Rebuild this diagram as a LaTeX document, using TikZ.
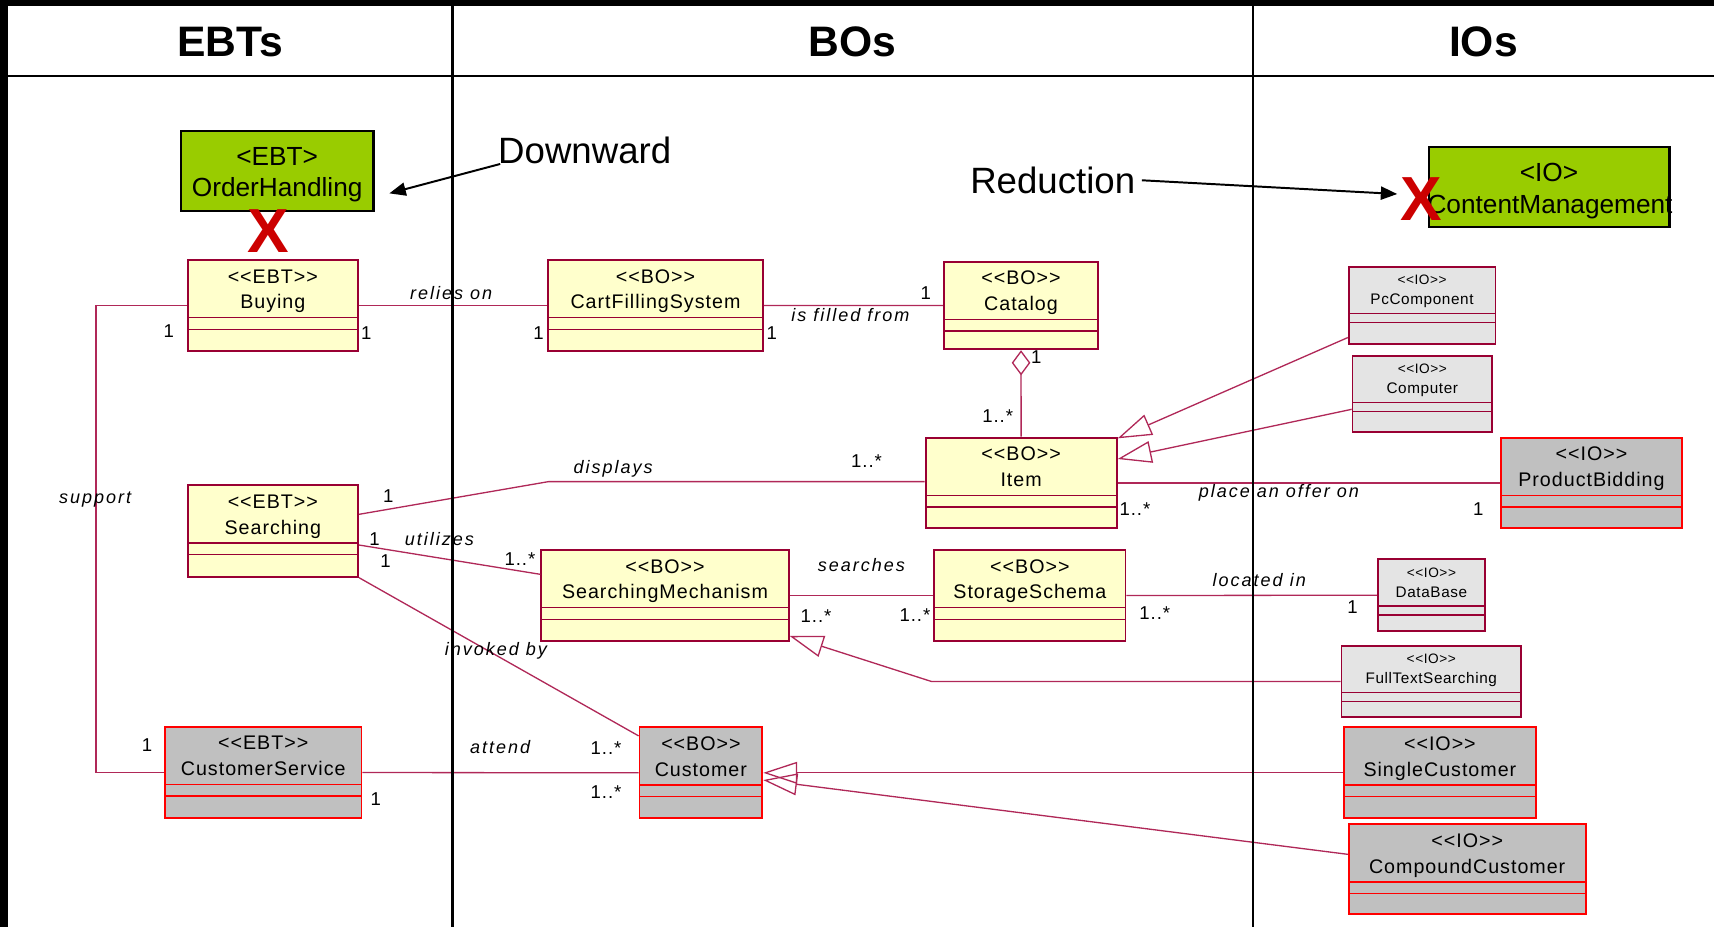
\documentclass[tikz,border=0pt]{standalone}
\usepackage{fontspec}
\setmainfont{Liberation Sans}
\newfontfamily\umlfont[LetterSpace=5,Ligatures=TeXOff]{Liberation Sans}
\newfontfamily\smallfont[LetterSpace=4,Ligatures=TeXOff]{Liberation Sans}
\newfontfamily\rolefont[LetterSpace=11,Ligatures=TeXOff]{Liberation Sans}
\usetikzlibrary{arrows.meta,fit,calc}

\definecolor{boyellow}{RGB}{255,255,204}
\definecolor{crimson}{RGB}{153,0,51}
\definecolor{assoccol}{RGB}{176,40,88}
\definecolor{iogray}{RGB}{192,192,192}
\definecolor{iolight}{RGB}{228,228,228}
\definecolor{iored}{RGB}{255,0,0}
\definecolor{ebtgreen}{RGB}{153,204,0}
\definecolor{crossred}{RGB}{204,0,0}

\tikzset{
  yellowcls/.style={draw=crimson, fill=boyellow, line width=1.8pt},
  lightcls/.style={draw=crimson, fill=iolight, line width=1.6pt},
  graycls/.style={draw=iored, fill=iogray, line width=1.6pt},
  greencls/.style={draw=black, fill=ebtgreen, line width=2pt},
  clstext/.style={inner sep=0pt, font=\umlfont\fontsize{18}{20}\selectfont},
  smalltext/.style={inner sep=0pt, font=\smallfont\fontsize{14}{16}\selectfont},
  smallstereo/.style={inner sep=0pt, font=\smallfont\fontsize{12.5}{14}\selectfont},
  greentext/.style={inner sep=0pt, font=\fontsize{24}{26}\selectfont},
  role/.style={inner sep=0pt, font=\rolefont\itshape\fontsize{16.5}{18}\selectfont},
  mult/.style={inner sep=0pt, font=\umlfont\fontsize{17}{19}\selectfont},
  assocline/.style={draw=assoccol, line width=1.2pt},
  genline/.style={assocline, -{Triangle[open, length=31pt, width=20pt]}},
  aggline/.style={assocline, {Diamond[open, length=23pt, width=17pt]}-},
  bigtext/.style={inner sep=0pt, font=\fontsize{33.5}{36}\selectfont},
  header/.style={inner sep=0pt, font=\bfseries\fontsize{39}{42}\selectfont},
  crossmark/.style={inner sep=0pt, text=crossred, font=\bfseries\fontsize{57}{60}\selectfont},
  pointer/.style={draw=black, line width=1.8pt, -{Triangle[length=15pt, width=12pt]}},
  rulebar/.style={draw=black, line width=2.2pt},
}

% class box with name, attribute and operation compartments
\newcommand{\stdclass}[8]{%
  \node[#2, inner sep=0pt, fit={(#3,#4) (#5,#6)}] (#1) {};
  \draw[#2, fill=none, line width=1.3pt] (#3,{#4+52.7}) -- (#5,{#4+52.7}) (#3,{#4+63.5}) -- (#5,{#4+63.5});
  \node[clstext, anchor=base] (#1-st) at ({(#3+#5)/2},{#4+21}) {#7};
  \node[clstext, anchor=base] (#1-nm) at ({(#3+#5)/2},{#4+44.7}) {#8};
}
\newcommand{\smallclass}[8]{%
  \node[#2, inner sep=0pt, fit={(#3,#4) (#5,#6)}] (#1) {};
  \draw[#2, fill=none, line width=1.3pt] (#3,{#4+42.6}) -- (#5,{#4+42.6}) (#3,{#4+51}) -- (#5,{#4+51});
  \node[smallstereo, anchor=base] (#1-st) at ({(#3+#5)/2},{#4+16.5}) {#7};
  \node[smalltext, anchor=base] (#1-nm) at ({(#3+#5)/2},{#4+35}) {#8};
}

\begin{document}
\begin{tikzpicture}[x=1pt,y=-1pt]
\useasboundingbox (0,0) rectangle (1568,848);
\fill[white] (0,0) rectangle (1568,848);

% table frame and header
\fill[black] (0,0) rectangle (1568,5.2);
\fill[black] (0,0) rectangle (7,848);
\draw[rulebar] (7,69.5) -- (1568,69.5);
\node[header, anchor=base] (hebt) at (210.5,52) {EBTs};
\node[header, anchor=base] (hbo) at (780,52) {BOs};
\node[header, anchor=base] (hio) at (1357,52) {IOs};

% top-level elements
\node[greencls, inner sep=0pt, fit={(165.6,119.6) (341.7,193.3)}] (oh) {};
\node[greentext, anchor=base] (oh-st) at (253.6,151.6) {<EBT>};
\node[greentext, anchor=base] (oh-nm) at (253.6,180) {OrderHandling};
\node[greencls, inner sep=0pt, fit={(1307,134.2) (1527.2,208)}] (cm) {};
\node[greentext, anchor=base] (cm-st) at (1417,166.2) {<IO>};
\node[greentext, anchor=base] (cm-nm) at (1418,195.2) {ContentManagement};

% EBT classes
\stdclass{buying}{yellowcls}{171.6}{237.9}{327.6}{321.1}{<<EBT>>}{Buying}
\stdclass{searching}{yellowcls}{171.6}{444}{327.6}{527.6}{<<EBT>>}{Searching}
\stdclass{cs}{graycls}{151}{664.8}{330.6}{748.6}{<<EBT>>}{CustomerService}

% BO classes
\stdclass{cfs}{yellowcls}{501.5}{237.9}{697.8}{321.1}{<<BO>>}{CartFillingSystem}
\stdclass{catalog}{yellowcls}{863.5}{239.4}{1004.6}{319.5}{<<BO>>}{Catalog}
\stdclass{item}{yellowcls}{846.7}{400.4}{1021.6}{483.3}{<<BO>>}{Item}
\stdclass{sm}{yellowcls}{495.2}{503.2}{721.5}{586.4}{<<BO>>}{SearchingMechanism}
\stdclass{ss}{yellowcls}{854.7}{503.2}{1029.6}{586.4}{<<BO>>}{StorageSchema}
\stdclass{customer}{graycls}{585}{665.4}{697.4}{748.6}{<<BO>>}{Customer}

% IO classes
\smallclass{pc}{lightcls}{1233.8}{244}{1368}{315}{<<IO>>}{PcComponent}
\smallclass{computer}{lightcls}{1237.3}{325.4}{1365}{395.5}{<<IO>>}{Computer}
\smallclass{db}{lightcls}{1260.6}{511.7}{1358.4}{577.3}{<<IO>>}{DataBase}
\smallclass{fts}{lightcls}{1227.2}{590.7}{1391.5}{656.2}{<<IO>>}{FullTextSearching}
\stdclass{pb}{graycls}{1373}{400.4}{1538.8}{483.3}{<<IO>>}{ProductBidding}
\stdclass{single}{graycls}{1229.3}{665.4}{1405.2}{748.6}{<<IO>>}{SingleCustomer}
\stdclass{compound}{graycls}{1233.8}{754.1}{1450.6}{836.2}{<<IO>>}{CompoundCustomer}

% associations
\draw[assocline] (buying.east) -- (cfs.west);
\draw[assocline] (cfs.east) -- (catalog.west);
\coordinate (supporttop) at (87.8,279.5);
\draw[assocline] (buying.west) -- (supporttop) |- (cs.west);
\draw[aggline] (catalog.south) -- (item.north);
\coordinate (dispknee) at (501.8,440.6);
\draw[assocline] ([yshift=15.3pt]searching.east) -- (dispknee) -- (item.west |- dispknee);
\draw[assocline] ([yshift=-12.8pt]searching.east) -- ([yshift=19.4pt]sm.west);
\draw[assocline] (searching.south east) -- ([yshift=-8.6pt]customer.north west);
\draw[assocline] (sm.east) -- (ss.west);
\draw[assocline] (ss.east) -- (db.west);
\draw[assocline] (item.east) -- (pb.west);
\draw[assocline] (cs.east) -- (customer.west);

% generalizations
\draw[genline] ([yshift=7pt]pc.south west) -- ([yshift=-1.5pt]item.north east);
\draw[genline] ([yshift=-14pt]computer.west) -- ([yshift=-20.4pt]item.north east);
\coordinate (ftsknee) at (852.3,623.5);
\draw[genline] (fts.west) -- (ftsknee) -- ([yshift=5.5pt]sm.south east);
\draw[genline] (single.west) -- (customer.east);
\draw[genline] ([yshift=13.6pt]compound.west) -- ([yshift=-6.6pt]customer.east);

% role names
\node[role] (lrelies) at (412.7,268) {relies on};
\node[role] (lfilled) at (778,288.2) {is filled from};
\node[role] (lsupport) at (87,456.7) {support};
\node[role] (ldisplays) at (561,429) {displays};
\node[role] (lutilizes) at (402,493.3) {utilizes};
\node[role] (linvoked) at (453.6,595.4) {invoked by};
\node[role] (lsearches) at (788,516.9) {searches};
\node[role] (loffer) at (1170,450.9) {place an offer on};
\node[role] (llocated) at (1152,530.2) {located in};
\node[role] (lattend) at (457.5,683.8) {attend};

% multiplicities
\node[mult] (mu1) at (154.5,302.8) {1};
\node[mult] (mu2) at (335,304.4) {1};
\node[mult] (mu3) at (492.7,304.4) {1};
\node[mult] (mu4) at (706,304.4) {1};
\node[mult] (mu5) at (846.9,268.3) {1};
\node[mult] (mu6) at (948,326.8) {1};
\node[mult] (mu7) at (912.7,380.6) {1..*};
\node[mult] (mu8) at (792.7,421.4) {1..*};
\node[mult] (mu9) at (1038.3,466) {1..*};
\node[mult] (mu10) at (1352.3,466) {1};
\node[mult] (mu11) at (355.2,453.8) {1};
\node[mult] (mu12) at (342.7,493.4) {1};
\node[mult] (mu13) at (352.7,512.9) {1};
\node[mult] (mu14) at (475.7,511.7) {1..*};
\node[mult] (mu15) at (746.5,563.5) {1..*};
\node[mult] (mu16) at (837,563) {1..*};
\node[mult] (mu17) at (1056.4,561) {1..*};
\node[mult] (mu18) at (1237.3,555) {1};
\node[mult] (mu19) at (134.5,681.5) {1};
\node[mult] (mu20) at (343.7,731.3) {1};
\node[mult] (mu21) at (554.4,684.6) {1..*};
\node[mult] (mu22) at (554.4,724.3) {1..*};

% annotations
\node[bigtext, anchor=base west] (downward) at (455.6,150) {Downward};
\coordinate (downtip) at (356.2,176.9);
\draw[pointer] ([xshift=2pt]downward.base west) -- (downtip);
\node[bigtext, anchor=base west] (reduction) at (887.4,176.9) {Reduction};
\coordinate (redtip) at (1278.2,177.5);
\draw[pointer] ([xshift=6pt]reduction.east) -- (redtip);
\node[crossmark, anchor=base] (ohcross) at (245.5,231) {X};
\node[crossmark, anchor=base] (cmcross) at (1300.6,201.9) {X};

% column dividers
\draw[rulebar] (414,5) -- (414,848);
\draw[rulebar] (1146.1,5) -- (1146.1,848);
\end{tikzpicture}
\end{document}
